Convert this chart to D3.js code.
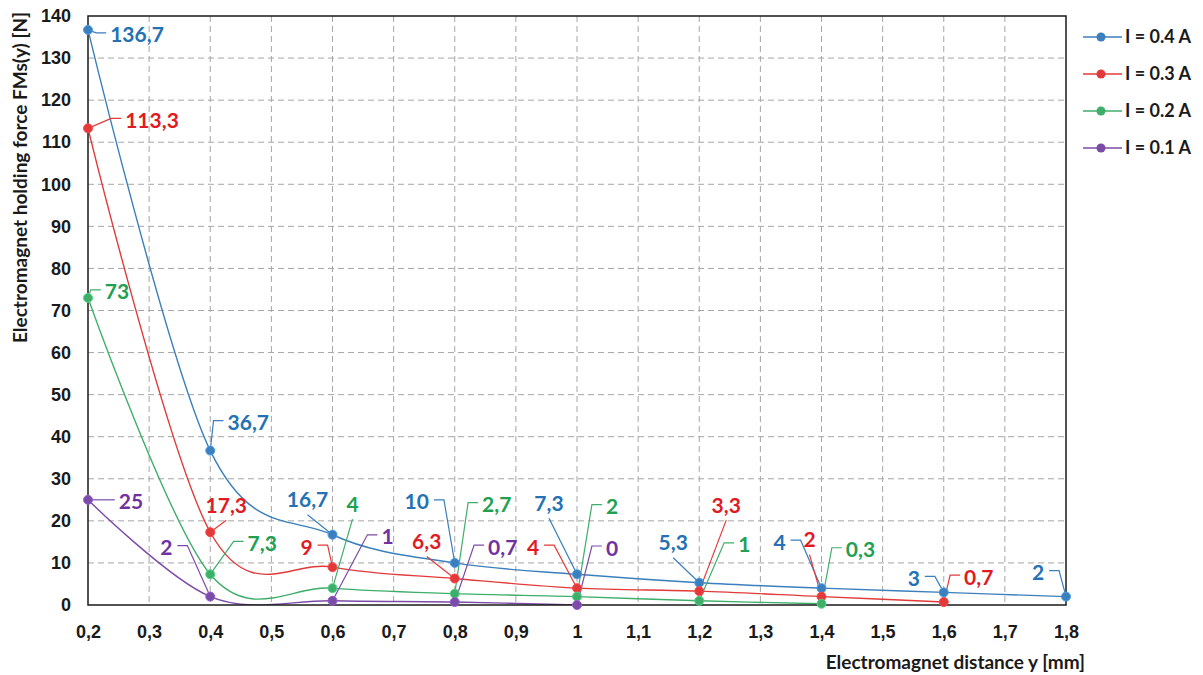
<!DOCTYPE html>
<html lang="en">
  <head>
    <meta charset="UTF-8">
    <title>Electromagnet holding force</title>
    <style>
      body { margin: 0; background: #fff; }
      svg { font-family: Lato, "Open Sans", sans-serif; font-weight: bold; }
      .grid line { stroke: #a6a6a6; stroke-width: 1; stroke-dasharray: 6, 4; }
      .axis text { font-size: 18px; fill: #1a1a1a; }
      .axis path, .axis line { display: none; }
      .series-line { fill: none; stroke-width: 1.4px; }
      .leader { fill: none; stroke-width: 1.2px; }
      .dlabel { font-size: 21px; }
      .title { font-size: 19px; fill: #1a1a1a; }
      .legend text { font-size: 18px; fill: #1a1a1a; }
    </style>
  </head>
  <body>
    <script src="https://d3js.org/d3.v7.min.js"></script>
    <script>
      // data
      const distances = [0.2, 0.4, 0.6, 0.8, 1.0, 1.2, 1.4, 1.6, 1.8];
      const seriesNames = ["I = 0.4 A", "I = 0.3 A", "I = 0.2 A", "I = 0.1 A"];
      const force04 = [136.7, 36.7, 16.7, 10, 7.3, 5.3, 4, 3, 2];
      const force03 = [113.3, 17.3, 9, 6.3, 4, 3.3, 2, 0.7];
      const force02 = [73, 7.3, 4, 2.7, 2, 1, 0.3];
      const force01 = [25, 2, 1, 0.7, 0];
      const xTicks = [0.2, 0.3, 0.4, 0.5, 0.6, 0.7, 0.8, 0.9, 1.0, 1.1, 1.2, 1.3, 1.4, 1.5, 1.6, 1.7, 1.8];
      const yTicks = [0, 10, 20, 30, 40, 50, 60, 70, 80, 90, 100, 110, 120, 130, 140];

      const lineColors = ["#3b7fbd", "#e23a3a", "#3fae6a", "#7b4ba8"];
      const textColors = ["#2471b3", "#e01b24", "#22a052", "#6f32a0"];

      // label placement: [leader type, dx, dy] offset of the text centre from its point
      const labelPlacement = [
        [["L", 49, 5], ["L", 38, -28], ["B", -25, -35], ["R", -38, -61], ["B", -28, -71],
         ["B", -26, -40], ["R", -42, -46], ["R", -30, -14], ["R", -28, -24]],
        [["L", 64, -8], ["B", 16, -27], ["R", -26, -20], ["B", -28, -37], ["R", -44, -41],
         ["B", 27, -86], ["B", -12, -57], ["L", 35, -25]],
        [["L", 29, -6], ["L", 52, -31], ["B", 20, -84], ["L", 42, -89], ["L", 35, -90],
         ["L", 45, -56], ["L", 39, -54]],
        [["L", 43, 2], ["R", -44, -49], ["L", 55, -64], ["L", 48, -55], ["L", 35, -57]]
      ];

      const seriesValues = [force04, force03, force02, force01];

      const width = 1203, height = 675;
      const plot = { left: 88, right: 1066, top: 16, bottom: 605 };

      const x = d3.scaleLinear().domain([0.2, 1.8]).range([plot.left, plot.right]);
      const y = d3.scaleLinear().domain([0, 140]).range([plot.bottom, plot.top]);

      const svg = d3.select("body").append("svg")
        .attr("width", width)
        .attr("height", height);

      const fmt = v => String(+v.toFixed(1)).replace(".", ",");

      // grid
      const grid = svg.append("g").attr("class", "grid");
      grid.selectAll("line.v")
        .data(xTicks.slice(1, -1))
        .enter().append("line")
        .attr("x1", d => x(d)).attr("x2", d => x(d))
        .attr("y1", plot.top).attr("y2", plot.bottom);
      grid.selectAll("line.h")
        .data(yTicks.slice(1, -1))
        .enter().append("line")
        .attr("x1", plot.left).attr("x2", plot.right)
        .attr("y1", d => y(d)).attr("y2", d => y(d));

      // axes
      svg.append("g")
        .attr("class", "axis")
        .attr("transform", `translate(${plot.left},0)`)
        .call(d3.axisLeft(y).tickValues(yTicks).tickSize(0).tickPadding(17));
      svg.append("g")
        .attr("class", "axis")
        .attr("transform", `translate(0,${plot.bottom})`)
        .call(d3.axisBottom(x).tickValues(xTicks).tickSize(0).tickPadding(20).tickFormat(fmt));

      // series
      svg.append("defs").append("clipPath").attr("id", "clip")
        .append("rect")
        .attr("x", plot.left).attr("y", plot.top)
        .attr("width", plot.right - plot.left).attr("height", plot.bottom - plot.top);

      const series = seriesNames.map((name, i) => ({
        name: name,
        index: i,
        points: seriesValues[i].map((v, j) => ({ x: distances[j], y: v, place: labelPlacement[i][j] }))
      }));

      const line = d3.line()
        .x(d => x(d.x))
        .y(d => y(d.y))
        .curve(d3.curveCardinal.tension(0));

      svg.append("g").attr("clip-path", "url(#clip)")
        .selectAll("path")
        .data(series)
        .enter().append("path")
        .attr("class", "series-line")
        .attr("stroke", d => lineColors[d.index])
        .attr("d", d => line(d.points));

      // frame
      svg.append("rect")
        .attr("x", plot.left).attr("y", plot.top)
        .attr("width", plot.right - plot.left).attr("height", plot.bottom - plot.top)
        .attr("fill", "none")
        .attr("stroke", "#1a1a1a")
        .attr("stroke-width", 1.5);

      // data labels with leader lines
      const labelLayer = svg.append("g");
      const leaderLayer = labelLayer.append("g");
      series.forEach(s => {
        s.points.forEach(p => {
          const [type, dx, dy] = p.place;
          const px = x(p.x), py = y(p.y);
          const cx = px + dx, cy = py + dy;
          const t = labelLayer.append("text")
            .attr("class", "dlabel")
            .attr("x", cx).attr("y", cy)
            .attr("dy", "0.36em")
            .attr("text-anchor", "middle")
            .attr("fill", textColors[s.index])
            .text(fmt(p.y));
          const w = t.node().getComputedTextLength();
          let pts;
          if (type === "L") {
            const l = cx - w / 2;
            pts = [[px, py], [l - 14, cy - 2], [l - 4, cy - 2]];
          } else if (type === "R") {
            const r = cx + w / 2;
            pts = [[px, py], [r + 15, cy - 2], [r + 5, cy - 2]];
          } else {
            pts = [[px, py], [cx, cy + 15]];
          }
          leaderLayer.append("path")
            .attr("class", "leader")
            .attr("stroke", lineColors[s.index])
            .attr("d", d3.line()(pts));
        });
      });

      // markers
      series.forEach(s => {
        svg.append("g").selectAll("circle")
          .data(s.points)
          .enter().append("circle")
          .attr("cx", d => x(d.x))
          .attr("cy", d => y(d.y))
          .attr("r", 4.5)
          .attr("fill", lineColors[s.index])
          .attr("stroke", d3.color(lineColors[s.index]).brighter(0.6))
          .attr("stroke-width", 1);
      });

      // axis titles
      svg.append("text")
        .attr("class", "title")
        .attr("x", 1085).attr("y", 669)
        .attr("text-anchor", "end")
        .text("Electromagnet distance y [mm]");
      svg.append("text")
        .attr("class", "title")
        .attr("transform", "translate(20,12) rotate(-90)")
        .attr("text-anchor", "end")
        .attr("dy", "0.36em")
        .text("Electromagnet holding force FMs(y) [N]");

      // legend
      const legend = svg.append("g").attr("class", "legend");
      const item = legend.selectAll("g")
        .data(seriesNames)
        .enter().append("g")
        .attr("transform", (d, i) => `translate(1083,${37 + i * 37})`);
      item.append("line")
        .attr("x1", 0).attr("x2", 39)
        .attr("stroke", (d, i) => lineColors[i])
        .attr("stroke-width", 1.5);
      item.append("circle")
        .attr("cx", 18).attr("r", 4.5)
        .attr("fill", (d, i) => lineColors[i]);
      item.append("text")
        .attr("x", 42)
        .attr("dy", "0.36em")
        .text(d => d);
    </script>
  </body>
</html>
